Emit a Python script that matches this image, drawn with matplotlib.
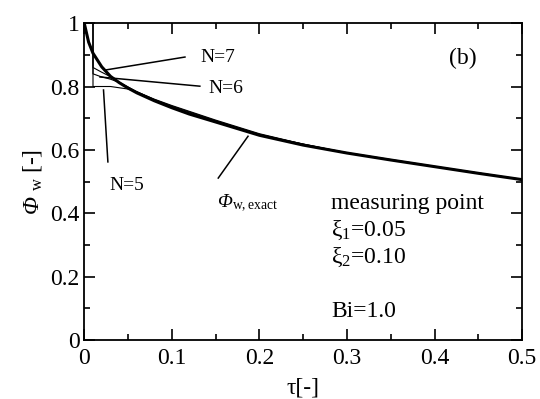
import matplotlib
matplotlib.use("Agg")
import matplotlib.pyplot as plt
from matplotlib.ticker import MultipleLocator

plt.rcParams['font.family'] = ['Liberation Serif', 'DejaVu Serif']
plt.rcParams['mathtext.fontset'] = 'custom'
plt.rcParams['mathtext.rm'] = 'Liberation Serif'
plt.rcParams['mathtext.it'] = 'Liberation Serif:italic'

# exact solution
tau_exact = [0.0, 0.005, 0.01, 0.02, 0.03, 0.04, 0.05, 0.06, 0.08, 0.10, 0.12,
             0.15, 0.20, 0.25, 0.30, 0.35, 0.40, 0.45, 0.50]
phi_exact = [1.0, 0.94, 0.905, 0.862, 0.832, 0.812, 0.795, 0.780, 0.755, 0.733, 0.713,
             0.688, 0.646, 0.615, 0.590, 0.568, 0.547, 0.526, 0.506]

# estimated curves for N = 5, 6, 7
tau_n5 = [0.01, 0.01, 0.03, 0.05, 0.06, 0.08, 0.10, 0.15, 0.20, 0.25, 0.30, 0.40, 0.50]
phi_n5 = [1.0, 0.80, 0.80, 0.792, 0.783, 0.760, 0.740, 0.694, 0.651, 0.618, 0.591, 0.548, 0.506]
tau_n6 = [0.01, 0.01, 0.018, 0.03, 0.04, 0.06, 0.08, 0.10, 0.15, 0.20, 0.25, 0.30, 0.40, 0.50]
phi_n6 = [1.0, 0.84, 0.832, 0.823, 0.813, 0.784, 0.759, 0.738, 0.692, 0.649, 0.617, 0.590, 0.547, 0.507]
tau_n7 = [0.01, 0.01, 0.02, 0.03, 0.04, 0.06, 0.08, 0.10, 0.15, 0.20, 0.30, 0.40, 0.50]
phi_n7 = [1.0, 0.86, 0.845, 0.831, 0.813, 0.781, 0.756, 0.735, 0.690, 0.647, 0.590, 0.547, 0.506]

x_ticks = [0, 0.1, 0.2, 0.3, 0.4, 0.5]
x_labels = ['0', '0.1', '0.2', '0.3', '0.4', '0.5']
y_ticks = [0, 0.2, 0.4, 0.6, 0.8, 1.0]
y_labels = ['0', '0.2', '0.4', '0.6', '0.8', '1']

fig = plt.figure(figsize=(5.4, 3.99), dpi=100)
ax = fig.add_axes([0.156, 0.148, 0.811, 0.794])

ax.plot(tau_n5, phi_n5, color='black', lw=0.8)
ax.plot(tau_n6, phi_n6, color='black', lw=0.8)
ax.plot(tau_n7, phi_n7, color='black', lw=0.8)
ax.plot(tau_exact, phi_exact, color='black', lw=2.2)

ax.set_xlim(0, 0.5)
ax.set_ylim(0, 1)
ax.set_xticks(x_ticks)
ax.set_xticklabels(x_labels)
ax.set_yticks(y_ticks)
ax.set_yticklabels(y_labels)
ax.xaxis.set_minor_locator(MultipleLocator(0.05))
ax.yaxis.set_minor_locator(MultipleLocator(0.1))
ax.tick_params(which='both', direction='in', top=True, right=True, labelsize=17, width=1.2)
ax.tick_params(which='major', length=8)
ax.tick_params(which='minor', length=4.5)
ax.tick_params(axis='x', pad=6)
for s in ax.spines.values():
    s.set_linewidth(1.3)

ax.set_xlabel('τ[-]', fontsize=17, labelpad=6)
ax.set_ylabel('Φ $_{\\mathrm{w}}\\ \\mathrm{[\u2010]}$', fontsize=17, labelpad=4, style='italic')

# annotation lines
ax.plot([0.115, 0.024], [0.893, 0.852], color='black', lw=1.1)
ax.plot([0.132, 0.018], [0.801, 0.830], color='black', lw=1.1)
ax.plot([0.022, 0.027], [0.789, 0.562], color='black', lw=1.1)
ax.plot([0.153, 0.187], [0.511, 0.643], color='black', lw=1.1)

ax.text(0.152, 0.893, 'N=7', fontsize=14, ha='center', va='center')
ax.text(0.162, 0.795, 'N=6', fontsize=14, ha='center', va='center')
ax.text(0.049, 0.489, 'N=5', fontsize=14, ha='center', va='center')
ax.text(0.152, 0.432, r'Φ$_{\mathrm{w,exact}}$', fontsize=14, ha='left', va='center',
        style='italic')

ax.text(0.432, 0.89, '(b)', fontsize=17, ha='center', va='center')
ax.text(0.282, 0.432, 'measuring point', fontsize=17, ha='left', va='center')
ax.text(0.282, 0.347, r'ξ$_1$=0.05', fontsize=17, ha='left', va='center')
ax.text(0.282, 0.262, r'ξ$_2$=0.10', fontsize=17, ha='left', va='center')
ax.text(0.282, 0.091, 'Bi=1.0', fontsize=17, ha='left', va='center')

fig.savefig('out.png', dpi=100)
